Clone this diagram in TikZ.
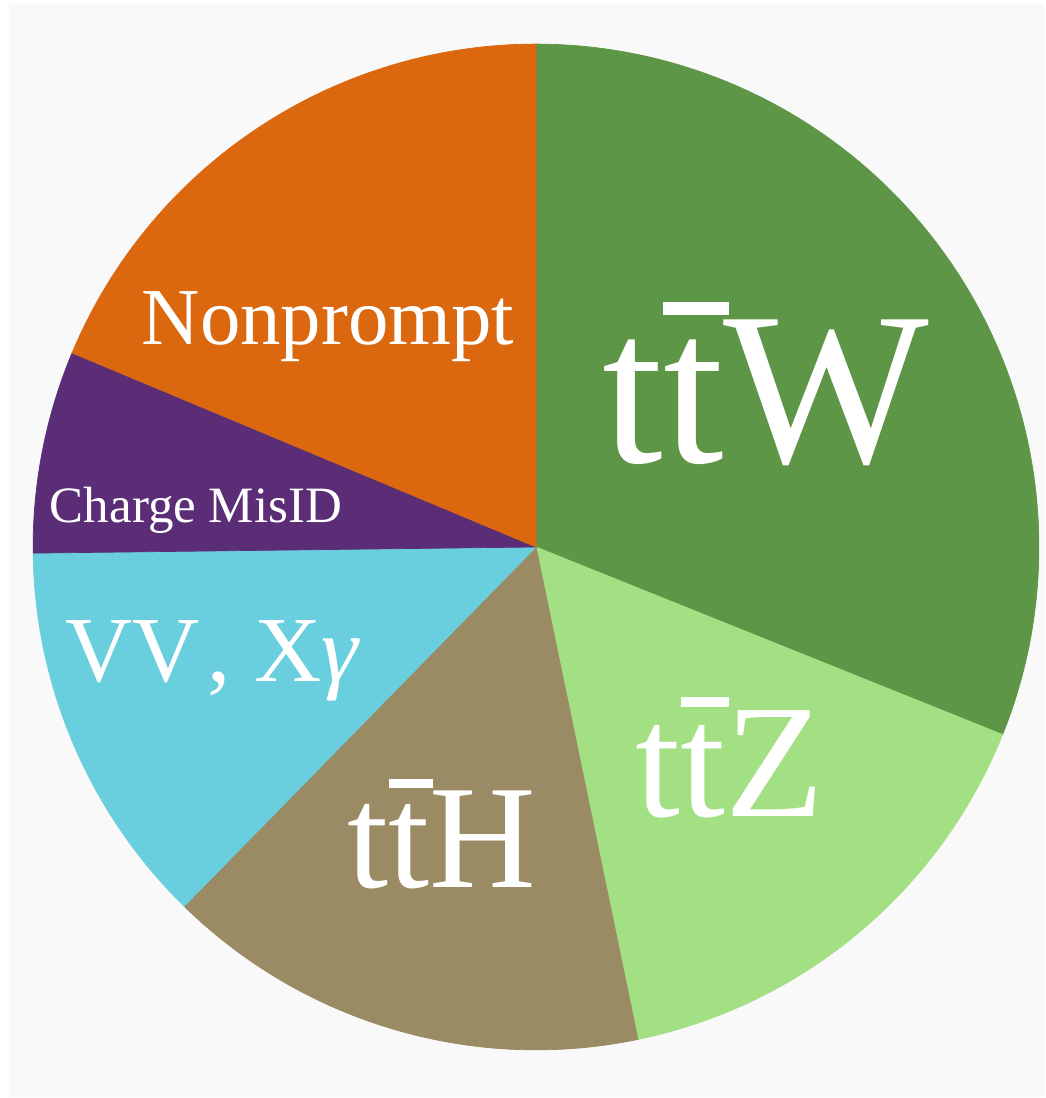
\documentclass[tikz,border=0pt]{standalone}
\usepackage{fontspec}
\setmainfont{Liberation Serif}
\definecolor{piebg}{HTML}{F9F9F9}
\definecolor{ttwgreen}{HTML}{5E9648}
\definecolor{ttzgreen}{HTML}{A3DF83}
\definecolor{tthtan}{HTML}{9B8B65}
\definecolor{vvcyan}{HTML}{69CFDF}
\definecolor{qpurple}{HTML}{5B2D77}
\definecolor{nporange}{HTML}{DB680F}
\usetikzlibrary{positioning}
% anti-top with a bar over it
\newcommand{\tbar}{\rlap{\rule[0.68em]{0.3em}{0.06em}}t}

\begin{document}
\begin{tikzpicture}[x=0.02cm, y=0.02cm,
    lbl/.style={text=white, anchor=base, inner sep=0pt},
    slice/.style={fill=#1, draw=#1, line width=0.4pt}
  ]
    \useasboundingbox (0,0) rectangle (1045,1098);
    \fill[white] (0,0) rectangle (1045,1098);
    \fill[piebg] (9,1) rectangle (1045,1094);

    \coordinate (o) at (536,551);
    \foreach \a/\b/\c in {-21.9/90/ttwgreen, -78.3/-21.9/ttzgreen,
                          -134.4/-78.3/tthtan, 180.7/225.6/vvcyan,
                          157.3/180.7/qpurple, 90/157.3/nporange}
      \path[slice=\c] (o) -- ++(\a:10.06cm)
        arc[start angle=\a, end angle=\b, radius=10.06cm] -- cycle;

    \node[lbl, font=\fontsize{124pt}{130pt}\selectfont] (ttw) at (766,635) {t\tbar W};
    \node[lbl, font=\fontsize{92pt}{96pt}\selectfont] (ttz) at (730,281) {t\tbar Z};
    \node[lbl, font=\fontsize{84pt}{88pt}\selectfont] (tth) at (442,210) {t\tbar H};
    \node[lbl, font=\fontsize{53pt}{56pt}\selectfont] (vv) at (213,416) {VV\kern0.08em, X\textit{γ}};
    \node[lbl, font=\fontsize{29pt}{31pt}\selectfont] (qmis) at (196,575) {Charge MisID};
    \node[lbl, font=\fontsize{46pt}{49pt}\selectfont] (np) at (328,753) {Nonprompt};
  \end{tikzpicture}
\end{document}
